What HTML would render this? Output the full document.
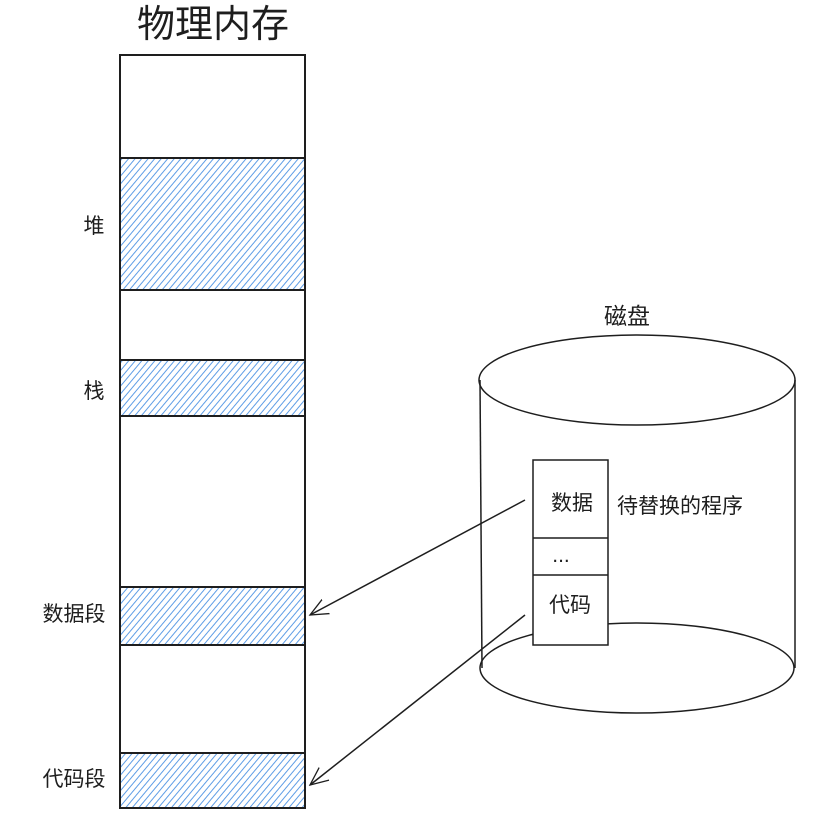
<!DOCTYPE html>
<html><head><meta charset="utf-8"><style>
html,body{margin:0;padding:0;background:#fff;}
svg{display:block;}
text{font-family:"Liberation Sans","Noto Sans CJK SC",sans-serif;fill:#1e1e1e;}
</style></head><body>
<svg width="838" height="837" viewBox="0 0 838 837" xmlns="http://www.w3.org/2000/svg">
<defs>
<pattern id="h" width="5" height="5" patternUnits="userSpaceOnUse" patternTransform="rotate(40)">
<line x1="0" y1="0" x2="0" y2="5" stroke="#5e9de6" stroke-width="2"/>
</pattern>
<marker id="a" markerWidth="20" markerHeight="20" refX="18" refY="10" orient="auto" markerUnits="userSpaceOnUse">
<path d="M0,2 L18,10 L0,18" fill="none" stroke="#1e1e1e" stroke-width="1.3"/>
</marker>
</defs>
<text x="213" y="37" font-size="38" text-anchor="middle">物理内存</text>
<rect x="120" y="55" width="185" height="753" fill="none" stroke="#1e1e1e" stroke-width="2"/>
<g stroke="#1e1e1e" stroke-width="2" fill="url(#h)">
<rect x="120" y="158" width="185" height="132"/>
<rect x="120" y="360" width="185" height="56"/>
<rect x="120" y="587" width="185" height="58"/>
<rect x="120" y="753" width="185" height="55"/>
</g>
<g font-size="21" text-anchor="middle">
<text x="94" y="233">堆</text>
<text x="94" y="398">栈</text>
<text x="74" y="621">数据段</text>
<text x="74" y="786">代码段</text>
</g>
<text x="627" y="324" font-size="23" text-anchor="middle">磁盘</text>
<g fill="none" stroke="#1e1e1e" stroke-width="1.5">
<ellipse cx="637" cy="380" rx="158" ry="45"/>
<path d="M637,623 A157,45 0 1,0 637,713 A157,45 0 1,0 637,623"/>
<line x1="480" y1="380" x2="482" y2="668"/>
<line x1="795" y1="380" x2="795" y2="668"/>
</g>
<rect x="533" y="460" width="75" height="185" fill="#fff" stroke="#1e1e1e" stroke-width="1.5"/>
<line x1="533" y1="538" x2="608" y2="538" stroke="#1e1e1e" stroke-width="1.5"/>
<line x1="533" y1="575" x2="608" y2="575" stroke="#1e1e1e" stroke-width="1.5"/>
<g font-size="21" text-anchor="middle">
<text x="572" y="510">数据</text>
<text x="561" y="562">...</text>
<text x="570" y="612">代码</text>
</g>
<text x="617" y="513" font-size="21">待替换的程序</text>
<line x1="525" y1="500" x2="310" y2="615" stroke="#1e1e1e" stroke-width="1.5" marker-end="url(#a)"/>
<line x1="525" y1="615" x2="310" y2="785" stroke="#1e1e1e" stroke-width="1.5" marker-end="url(#a)"/>
</svg>
</body></html>
